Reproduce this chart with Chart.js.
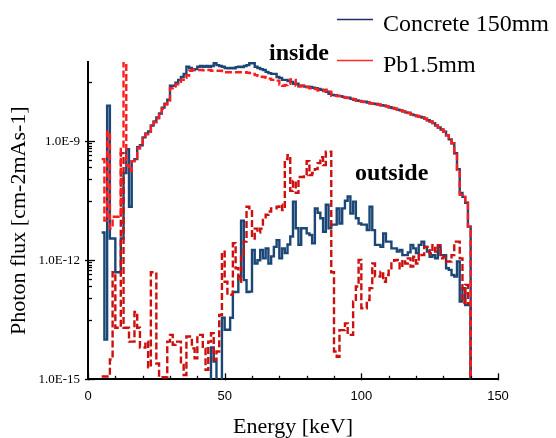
<!DOCTYPE html>
<html>
<head>
<meta charset="utf-8">
<script src="https://cdn.jsdelivr.net/npm/chart.js@4/dist/chart.umd.min.js"></script>
<style>
html,body{margin:0;padding:0;background:#fff;}
#wrap{position:relative;width:556px;height:438px;}
</style>
</head>
<body>
<div id="wrap"><canvas id="c" width="556" height="438"></canvas></div>
<script>
// Left edges of the 1 keV histogram bins (the last entry closes the final bin)
const energyKeV = [
  5,6,7,8,9,10,11,12,13,14,
  15,16,17,18,19,20,21,22,23,24,
  25,26,27,28,29,30,31,32,33,34,
  35,36,37,38,39,40,41,42,43,44,
  45,46,47,48,49,50,51,52,53,54,
  55,56,57,58,59,60,61,62,63,64,
  65,66,67,68,69,70,71,72,73,74,
  75,76,77,78,79,80,81,82,83,84,
  85,86,87,88,89,90,91,92,93,94,
  95,96,97,98,99,100,101,102,103,104,
  105,106,107,108,109,110,111,112,113,114,
  115,116,117,118,119,120,121,122,123,124,
  125,126,127,128,129,130,131,132,133,134,
  135,136,137,138,139,140
];

// Photon flux read from the log axis, stored as log10 values (null = no flux in that bin)
const concreteInsideLog10 = [
  -11.3,-14.0,-8.1,-11.45,-11.45,-12.3,-12.3,-11.45,-9.8,-9.2,
  -10.65,-9.5,-9.45,-9.15,-9.1,-8.9,-8.8,-8.75,-8.6,-8.5,
  -8.4,-8.3,-8.15,-8.05,-7.95,-7.6,-7.6,-7.52,-7.45,-7.38,
  -7.3,-7.12,-7.15,-7.2,-7.18,-7.12,-7.1,-7.12,-7.1,-7.12,
  -7.1,-7.03,-7.08,-7.1,-7.12,-7.15,-7.16,-7.15,-7.16,-7.13,
  -7.12,-7.13,-7.1,-7.08,-7.03,-7.03,-7.12,-7.15,-7.18,-7.2,
  -7.25,-7.28,-7.3,-7.3,-7.38,-7.4,-7.45,-7.45,-7.48,-7.5,
  -7.55,-7.55,-7.6,-7.6,-7.62,-7.62,-7.63,-7.65,-7.66,-7.68,
  -7.7,-7.72,-7.75,-7.8,-7.83,-7.84,-7.85,-7.86,-7.88,-7.9,
  -7.9,-7.93,-7.95,-7.97,-7.98,-8.0,-8.0,-8.02,-8.04,-8.05,
  -8.06,-8.07,-8.09,-8.1,-8.12,-8.14,-8.16,-8.18,-8.2,-8.22,
  -8.24,-8.27,-8.28,-8.32,-8.34,-8.36,-8.38,-8.4,-8.43,-8.47,
  -8.5,-8.54,-8.6,-8.65,-8.7,-8.76,-8.85,-8.95,-9.05,-9.3,
  -9.7,-10.3,-10.4,-10.55,-11.15,null
];

const pbInsideLog10 = [
  -9.45,-11.0,-8.76,-11.2,-10.9,-10.9,-10.9,-9.13,-6.5,-9.6,
  -9.75,-9.5,-9.45,-9.18,-9.12,-8.92,-8.82,-8.76,-8.62,-8.52,
  -8.42,-8.32,-8.18,-8.07,-7.97,-7.66,-7.62,-7.56,-7.5,-7.45,
  -7.4,-7.34,-7.22,-7.2,-7.2,-7.2,-7.2,-7.21,-7.2,-7.2,
  -7.22,-7.22,-7.22,-7.22,-7.23,-7.26,-7.26,-7.26,-7.26,-7.26,
  -7.26,-7.26,-7.26,-7.27,-7.28,-7.3,-7.33,-7.35,-7.37,-7.38,
  -7.4,-7.42,-7.45,-7.45,-7.47,-7.57,-7.6,-7.58,-7.55,-7.44,
  -7.45,-7.6,-7.62,-7.6,-7.63,-7.64,-7.66,-7.67,-7.68,-7.72,
  -7.72,-7.73,-7.7,-7.75,-7.85,-7.85,-7.86,-7.86,-7.89,-7.9,
  -7.91,-7.93,-7.94,-7.97,-7.99,-8.0,-8.01,-8.02,-8.04,-8.05,
  -8.06,-8.08,-8.09,-8.1,-8.12,-8.14,-8.16,-8.18,-8.2,-8.22,
  -8.24,-8.26,-8.29,-8.32,-8.34,-8.36,-8.38,-8.4,-8.43,-8.47,
  -8.5,-8.54,-8.6,-8.65,-8.7,-8.76,-8.85,-8.95,-9.05,-9.3,
  -9.72,-10.35,-10.4,-10.55,-11.15,null
];

const concreteOutsideLog10 = [
  null,null,null,null,null,null,null,null,null,null,
  null,null,null,null,null,null,null,null,null,null,
  null,null,null,null,null,null,null,null,null,null,
  null,null,null,null,null,null,null,null,null,null,
  -14.2,-14.55,null,null,-13.45,-13.75,-13.75,-13.45,-12.8,-12.8,
  -12.4,-11.0,-12.5,-12.8,-12.79,-11.74,-12.08,-12.0,-11.74,-11.95,
  -11.7,-12.08,-11.9,-11.66,-11.49,-11.95,-11.7,-11.82,-11.6,-11.4,
  -10.52,-11.19,-11.61,-11.19,-11.19,-11.32,-11.36,-11.57,-10.69,-10.8,
  -10.94,-11.28,-10.6,-11.19,-11.1,-11.1,-10.69,-11.07,-10.69,-10.5,
  -10.39,-10.82,-10.52,-10.94,-11.07,-11.1,-11.1,-11.24,-10.65,-11.24,
  -11.61,-11.61,-11.66,-11.32,-11.53,-11.53,-11.7,-11.7,-11.78,-11.74,
  -11.87,-11.87,-11.8,-11.61,-11.7,-11.82,-11.61,-11.53,-11.66,-11.78,
  -11.91,-11.87,-11.95,-11.66,-11.87,-11.87,-12.2,-12.24,-12.37,-12.41,
  -12.03,-13.04,-12.7,-13.13,-13.13,null
];

const pbOutsideLog10 = [
  -14.93,-14.93,-14.93,-14.5,-12.3,-13.7,-13.7,-9.3,-13.7,-13.7,
  -14.05,-14.05,-13.3,-13.7,-14.2,-14.2,-14.05,-14.7,-12.3,-12.3,
  -14.6,-14.95,-14.95,-14.95,-14.05,-13.88,-14.13,-14.05,-14.05,-14.64,
  -14.89,-13.92,-13.92,-14.22,-14.47,-13.88,-13.88,-14.22,-14.76,-14.05,
  -13.84,-14.5,-14.3,-13.38,-11.78,-12.54,-12.87,-12.87,-11.57,-12.2,
  -12.54,-11.87,-11.53,-10.65,-10.69,-11.45,-11.2,-11.3,-11.2,-10.98,
  -10.85,-10.77,-10.69,-10.69,-10.65,-10.6,-10.73,-9.45,-9.35,-10.25,
  -10.0,-10.3,-9.9,-9.9,-9.85,-9.5,-9.85,-9.8,-9.7,-9.55,
  -9.4,-9.6,-9.26,-9.26,-12.3,-14.3,-14.43,-13.76,-13.76,-13.59,
  -13.88,-13.88,-13.04,-12.66,-11.99,-13.21,-13.21,-13.0,-12.7,-12.08,
  -12.41,-12.41,-12.29,-12.54,-12.37,-12.2,-12.08,-12.0,-11.99,-12.2,
  -11.99,-12.08,-11.95,-12.16,-11.91,-12.08,-11.83,-11.87,-11.66,-11.66,
  -11.83,-11.62,-11.78,-11.62,-11.95,-11.91,-12.03,-12.03,-11.87,-11.53,
  -11.53,-11.95,-13.08,-12.62,-13.08,null
];

const xTickValues = [0, 50, 100, 150];
const xMinorTickValues = [0,10,20,30,40,50,60,70,80,90,100,110,120,130,140,150];
const yTickValues = [1e-15, 1e-12, 1e-9];
const yTickLabels = ['1.0E-15', '1.0E-12', '1.0E-9'];
const yMinorTickValues = [
  3.16e-8,
  8.89e-10,7.78e-10,6.67e-10,5.56e-10,4.44e-10,3.33e-10,2.22e-10,1.11e-10,3.16e-11,
  8.89e-13,7.78e-13,6.67e-13,5.56e-13,4.44e-13,3.33e-13,2.22e-13,1.11e-13,3.16e-14
];
const legendLabels = ['Concrete 150mm', 'Pb1.5mm'];
const regionLabels = ['inside', 'outside'];

const BLUE = '#1b4776';
const RED_IN = '#ff1c1c';
const RED_OUT = '#cc1010';

// zero-flux bins are placed below the axis minimum so the step falls off the plot
function toPoints(log10s) {
  return energyKeV.map((e, i) => ({ x: e, y: log10s[i] === null ? 1e-20 : Math.pow(10, log10s[i]) }));
}

const tickMarks = {
  id: 'tickMarks',
  afterDraw(chart) {
    const { ctx, chartArea: a, scales: { x, y } } = chart;
    ctx.save();
    ctx.strokeStyle = '#000';
    ctx.lineWidth = 1.3;
    xMinorTickValues.forEach(v => {
      const px = Math.round(x.getPixelForValue(v)) + 0.5;
      const major = xTickValues.includes(v);
      ctx.beginPath();
      ctx.moveTo(px, a.bottom + (major ? 1 : 0));
      ctx.lineTo(px, a.bottom - (major ? 6 : 3.5));
      ctx.stroke();
    });
    yTickValues.forEach(v => {
      const py = Math.round(y.getPixelForValue(v)) + 0.5;
      ctx.beginPath();
      ctx.moveTo(a.left - 3, py);
      ctx.lineTo(a.left + 7, py);
      ctx.stroke();
    });
    yMinorTickValues.forEach(v => {
      const py = Math.round(y.getPixelForValue(v)) + 0.5;
      ctx.beginPath();
      ctx.moveTo(a.left, py);
      ctx.lineTo(a.left + 4, py);
      ctx.stroke();
    });
    ctx.restore();
  }
};

const legendAndLabels = {
  id: 'legendAndLabels',
  afterDraw(chart) {
    const ctx = chart.ctx;
    ctx.save();
    ctx.lineWidth = 1.6;
    ctx.strokeStyle = '#1f2c6c';
    ctx.beginPath(); ctx.moveTo(337, 19.5); ctx.lineTo(373, 19.5); ctx.stroke();
    ctx.strokeStyle = '#ff2a2a';
    ctx.beginPath(); ctx.moveTo(337, 60.5); ctx.lineTo(373, 60.5); ctx.stroke();
    ctx.fillStyle = '#000';
    ctx.textBaseline = 'alphabetic';
    ctx.textAlign = 'left';
    ctx.font = '24px "Liberation Serif"';
    ctx.fillText(legendLabels[0], 383, 31);
    ctx.fillText(legendLabels[1], 383, 71.5);
    ctx.font = 'bold 24px "Liberation Serif"';
    ctx.fillText(regionLabels[0], 269, 60);
    ctx.fillText(regionLabels[1], 355, 180);
    ctx.restore();
  }
};

new Chart(document.getElementById('c'), {
  type: 'line',
  data: {
    datasets: [
      { label: 'Pb1.5mm (inside)', data: toPoints(pbInsideLog10), borderColor: RED_IN, borderDash: [7, 3], borderWidth: 2.4, stepped: true, order: 0 },
      { label: 'Pb1.5mm (outside)', data: toPoints(pbOutsideLog10), borderColor: RED_OUT, borderDash: [7, 3], borderWidth: 2.4, stepped: true, order: 0 },
      { label: 'Concrete 150mm (inside)', data: toPoints(concreteInsideLog10), borderColor: BLUE, borderWidth: 2.4, stepped: true, order: 1 },
      { label: 'Concrete 150mm (outside)', data: toPoints(concreteOutsideLog10), borderColor: BLUE, borderWidth: 2.4, stepped: true, order: 1 }
    ]
  },
  options: {
    responsive: false,
    animation: false,
    events: [],
    layout: { padding: { top: 62, right: 58, left: 0, bottom: 0 } },
    elements: { point: { radius: 0 }, line: { tension: 0, fill: false, borderJoinStyle: 'miter' } },
    plugins: { legend: { display: false }, tooltip: { enabled: false } },
    scales: {
      x: {
        type: 'linear', min: 0, max: 150,
        afterBuildTicks(s) { s.ticks = xTickValues.map(v => ({ value: v })); },
        ticks: { color: '#000', font: { family: 'Liberation Sans', size: 13 }, padding: 9, maxRotation: 0, autoSkip: false },
        grid: { display: false, drawTicks: false },
        border: { display: true, color: '#000', width: 2 },
        title: { display: true, text: 'Energy [keV]', color: '#000', font: { family: 'Liberation Serif', size: 22, lineHeight: 1 }, padding: { top: 0, bottom: 0 } },
        afterFit(s) { s.height = 58.7; }
      },
      y: {
        type: 'logarithmic', min: 1e-15, max: 1e-7,
        afterBuildTicks(s) { s.ticks = yTickValues.map(v => ({ value: v })); },
        ticks: {
          color: '#000', font: { family: 'Liberation Serif', size: 13 }, padding: 8, autoSkip: false,
          callback: (v) => { const i = yTickValues.indexOf(v); return i >= 0 ? yTickLabels[i] : ''; }
        },
        grid: { display: false, drawTicks: false },
        border: { display: true, color: '#000', width: 2 },
        title: { display: true, text: 'Photon flux [cm-2mAs-1]', color: '#000', font: { family: 'Liberation Serif', size: 22, lineHeight: 1 }, padding: { top: 8, bottom: 0 } },
        afterFit(s) { s.width = 88; }
      }
    }
  },
  plugins: [tickMarks, legendAndLabels]
});
</script>
</body>
</html>
